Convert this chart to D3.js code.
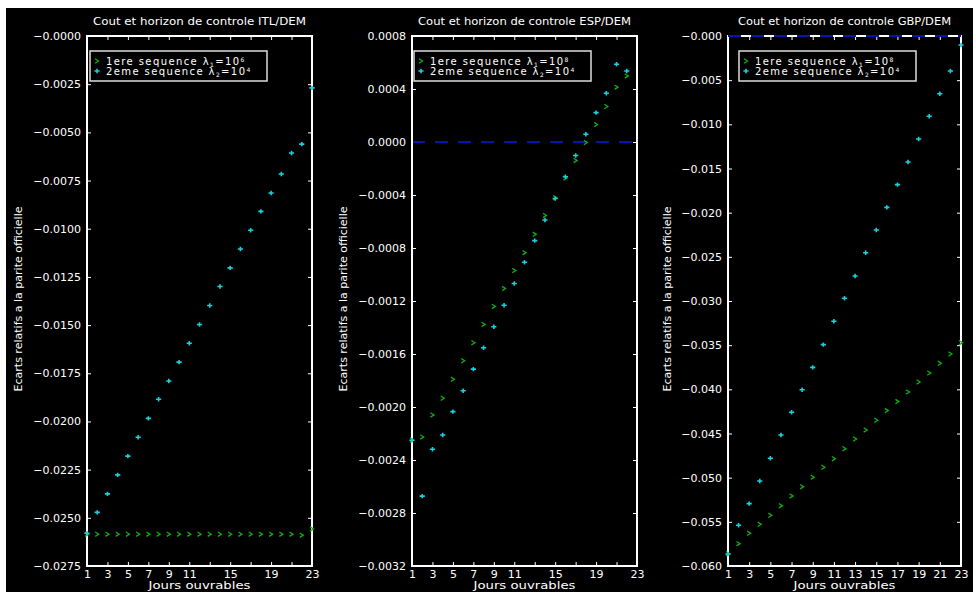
<!DOCTYPE html>
<html lang="fr">
<head>
<meta charset="UTF-8">
<title>Cout et horizon de controle</title>
<script src="https://d3js.org/d3.v7.min.js"></script>
<style>
    body { margin: 0; background: #fff; }
    svg { display: block; }
    text { font-family: "DejaVu Sans", sans-serif; fill: #fff; }
    .tick line { stroke: #fff; }
    .tick text { font-size: 11px; }
</style>
</head>
<body>
<svg></svg>
<script>
    // jours ouvrables
    const days = [1, 2, 3, 4, 5, 6, 7, 8, 9, 10, 11, 12, 13, 14, 15, 16, 17, 18, 19, 20, 21, 22, 23];
    const dayTicks = [1, 3, 5, 7, 9, 11, 13, 15, 17, 19, 21, 23];

    // ITL/DEM
    const itlSeq1 = [-0.02585, -0.02585, -0.02585, -0.02585, -0.02585, -0.02585, -0.02585, -0.02585, -0.02585, -0.02585, -0.02585, -0.02585,
                     -0.02585, -0.02585, -0.02585, -0.02585, -0.02585, -0.02585, -0.02585, -0.02585, -0.02585, -0.0259, -0.02558];
    const itlSeq2 = [-0.0258, -0.02472, -0.02376, -0.02277, -0.0218, -0.02082, -0.01984, -0.01885, -0.0179, -0.01692, -0.01594, -0.01497,
                     -0.01398, -0.0130, -0.01203, -0.01105, -0.01008, -0.0091, -0.00815, -0.00716, -0.00607, -0.00561, -0.00269];
    const itlYTicks = [0, -0.0025, -0.005, -0.0075, -0.01, -0.0125, -0.015, -0.0175, -0.02, -0.0225, -0.025, -0.0275];
    const itlYLabels = ["−0.0000", "−0.0025", "−0.0050", "−0.0075", "−0.0100", "−0.0125", "−0.0150", "−0.0175", "−0.0200", "−0.0225", "−0.0250", "−0.0275"];
    const itlXLabels = [1, 3, 5, 7, 9, 11, 15, 19, 23];

    // ESP/DEM
    const espSeq1 = [-0.00225, -0.002226, -0.00206, -0.001934, -0.001791, -0.001651, -0.001515, -0.001377, -0.001241, -0.001106, -0.00097, -0.000835,
                     -0.000697, -0.000554, -0.00042, -0.000272, -0.000139, -0.000004, 0.000132, 0.000268, 0.000414, 0.000499, null];
    const espSeq2 = [-0.002251, -0.002673, -0.002319, -0.002211, -0.002035, -0.001877, -0.001714, -0.001553, -0.001394, -0.001232, -0.001068, -0.000908,
                     -0.000744, -0.000589, -0.000426, -0.000262, -0.000102, 0.000059, 0.000222, 0.000368, 0.000587, 0.000536, null];
    const espYTicks = [0.0008, 0.0004, 0, -0.0004, -0.0008, -0.0012, -0.0016, -0.002, -0.0024, -0.0028, -0.0032];
    const espYLabels = ["0.0008", "0.0004", "0.0000", "−0.0004", "−0.0008", "−0.0012", "−0.0016", "−0.0020", "−0.0024", "−0.0028", "−0.0032"];
    const espXLabels = [1, 3, 5, 7, 9, 11, 15, 19, 23];

    // GBP/DEM
    const gbpSeq1 = [-0.0586, -0.05747, -0.0563, -0.05528, -0.05426, -0.05317, -0.05207, -0.05102, -0.04995, -0.04882, -0.04785, -0.04672,
                     -0.04562, -0.0446, -0.0435, -0.04241, -0.04139, -0.0403, -0.03917, -0.03815, -0.03705, -0.036, -0.03472];
    const gbpSeq2 = [-0.05864, -0.05539, -0.05294, -0.05038, -0.04781, -0.04517, -0.0426, -0.04004, -0.03751, -0.03494, -0.03229, -0.02969,
                     -0.02717, -0.02453, -0.02196, -0.0194, -0.01683, -0.01426, -0.01166, -0.00909, -0.00653, -0.00396, -0.00102];
    const gbpYTicks = [0, -0.005, -0.01, -0.015, -0.02, -0.025, -0.03, -0.035, -0.04, -0.045, -0.05, -0.055, -0.06];
    const gbpYLabels = ["−0.000", "−0.005", "−0.010", "−0.015", "−0.020", "−0.025", "−0.030", "−0.035", "−0.040", "−0.045", "−0.050", "−0.055", "−0.060"];
    const gbpXLabels = [1, 3, 5, 7, 9, 11, 13, 15, 17, 19, 21, 23];

    const panels = [
        { title: "Cout et horizon de controle ITL/DEM", s1: itlSeq1, s2: itlSeq2, yTicks: itlYTicks, yLabels: itlYLabels, xLabels: itlXLabels,
          exp1: "6", left: 87, right: 312, legendX: 90, yTitleX: 22, zero: false },
        { title: "Cout et horizon de controle ESP/DEM", s1: espSeq1, s2: espSeq2, yTicks: espYTicks, yLabels: espYLabels, xLabels: espXLabels,
          exp1: "8", left: 412, right: 637, legendX: 414, yTitleX: 347, zero: true },
        { title: "Cout et horizon de controle GBP/DEM", s1: gbpSeq1, s2: gbpSeq2, yTicks: gbpYTicks, yLabels: gbpYLabels, xLabels: gbpXLabels,
          exp1: "8", left: 728, right: 961, legendX: 739, yTitleX: 671, zero: true }
    ];

    const width = 976, height = 594;
    const plotTop = 36, plotBottom = 566;
    const green = "#0fb00f", cyan = "#19d0dc", navy = "#0a14a8";

    const svg = d3.select("svg").attr("width", width).attr("height", height);
    svg.append("rect").attr("x", 6).attr("y", 8).attr("width", 967).attr("height", 584).attr("fill", "#000");

    const chevron = "M-2,-2.2L1.5,0L-2,2.2";
    const plus = "M-2.6,0H2.6M0,-2.2V2.2";

    panels.forEach(p => {
        const g = svg.append("g");
        const x = d3.scaleLinear().domain([1, 23]).range([p.left, p.right]);
        const yMin = d3.min(p.yTicks), yMax = d3.max(p.yTicks);
        const y = d3.scaleLinear().domain([yMin, yMax]).range([plotBottom, plotTop]);

        // axes, ticks pointing inwards
        g.append("g").attr("transform", `translate(${p.left},0)`)
            .call(d3.axisLeft(y).tickValues(p.yTicks).tickFormat((d, i) => p.yLabels[i]).tickSizeInner(-4).tickSizeOuter(0).tickPadding(6));
        g.append("g").attr("transform", `translate(${p.right},0)`)
            .call(d3.axisRight(y).tickValues(p.yTicks).tickFormat("").tickSizeInner(-4).tickSizeOuter(0));
        g.append("g").attr("transform", `translate(0,${plotTop})`)
            .call(d3.axisTop(x).tickValues(dayTicks).tickFormat("").tickSizeInner(-4).tickSizeOuter(0));
        g.append("g").attr("transform", `translate(0,${plotBottom})`)
            .call(d3.axisBottom(x).tickValues(dayTicks).tickFormat(d => p.xLabels.includes(d) ? d : "").tickSizeInner(-4).tickSizeOuter(0).tickPadding(4));
        g.selectAll(".domain").remove();
        g.selectAll(".tick text").attr("fill", "#fff");

        if (p.zero) {
            g.append("line")
                .attr("x1", p.left).attr("x2", p.right)
                .attr("y1", y(0)).attr("y2", y(0))
                .attr("stroke", navy).attr("stroke-width", 2)
                .attr("stroke-dasharray", "13,10");
        }

        // frame
        g.append("rect")
            .attr("x", p.left).attr("y", plotTop)
            .attr("width", p.right - p.left).attr("height", plotBottom - plotTop)
            .attr("fill", "none").attr("stroke", "#fff").attr("stroke-width", 2);

        if (p.zero && y(0) <= plotTop + 1) {
            g.append("line")
                .attr("x1", p.left).attr("x2", p.right)
                .attr("y1", y(0)).attr("y2", y(0))
                .attr("stroke", navy).attr("stroke-width", 2)
                .attr("stroke-dasharray", "13,10");
        }

        const pts1 = days.map((d, i) => ({ d: d, v: p.s1[i] })).filter(o => o.v !== null);
        const pts2 = days.map((d, i) => ({ d: d, v: p.s2[i] })).filter(o => o.v !== null);

        g.selectAll(".s1").data(pts1).enter().append("path")
            .attr("class", "s1")
            .attr("d", chevron)
            .attr("transform", o => `translate(${x(o.d)},${y(o.v)})`)
            .attr("fill", "none").attr("stroke", green).attr("stroke-width", 1.3);

        g.selectAll(".s2").data(pts2).enter().append("path")
            .attr("class", "s2")
            .attr("d", plus)
            .attr("transform", o => `translate(${x(o.d)},${y(o.v)})`)
            .attr("fill", "none").attr("stroke", cyan).attr("stroke-width", 1.6);

        // titles
        g.append("text")
            .attr("x", (p.left + p.right) / 2).attr("y", 25)
            .attr("text-anchor", "middle").attr("font-size", 10)
            .attr("textLength", 213).attr("lengthAdjust", "spacingAndGlyphs")
            .text(p.title);

        g.append("text")
            .attr("x", (p.left + p.right) / 2).attr("y", 589)
            .attr("text-anchor", "middle").attr("font-size", 11)
            .attr("textLength", 102).attr("lengthAdjust", "spacingAndGlyphs")
            .text("Jours ouvrables");

        g.append("text")
            .attr("transform", `translate(${p.yTitleX},${(plotTop + plotBottom) / 2 - 2}) rotate(-90)`)
            .attr("text-anchor", "middle").attr("font-size", 10)
            .attr("textLength", 185).attr("lengthAdjust", "spacingAndGlyphs")
            .text("Ecarts relatifs a la parite officielle");

        // legend
        const lg = g.append("g").attr("transform", `translate(${p.legendX},51)`);
        lg.append("rect").attr("width", 177).attr("height", 30)
            .attr("fill", "#000").attr("stroke", "#ddd").attr("stroke-width", 1.5);
        lg.append("path").attr("d", chevron).attr("transform", "translate(7,10)")
            .attr("fill", "none").attr("stroke", green).attr("stroke-width", 1.3);
        lg.append("path").attr("d", plus).attr("transform", "translate(7,20)")
            .attr("fill", "none").attr("stroke", cyan).attr("stroke-width", 1.6);

        const lines = [["1ere sequence λ", "1", "=10", p.exp1], ["2eme sequence λ", "2", "=10", "4"]];
        lines.forEach((l, i) => {
            const t = lg.append("text").attr("x", 16).attr("y", 14 + i * 10)
                .attr("font-size", 10).attr("letter-spacing", 1.4);
            t.append("tspan").text(l[0]);
            t.append("tspan").attr("dy", 1.5).attr("font-size", 6).text(l[1]);
            t.append("tspan").attr("dy", -1.5).text(l[2]);
            t.append("tspan").attr("dy", -3).attr("font-size", 6).text(l[3]);
        });
    });
</script>
</body>
</html>
